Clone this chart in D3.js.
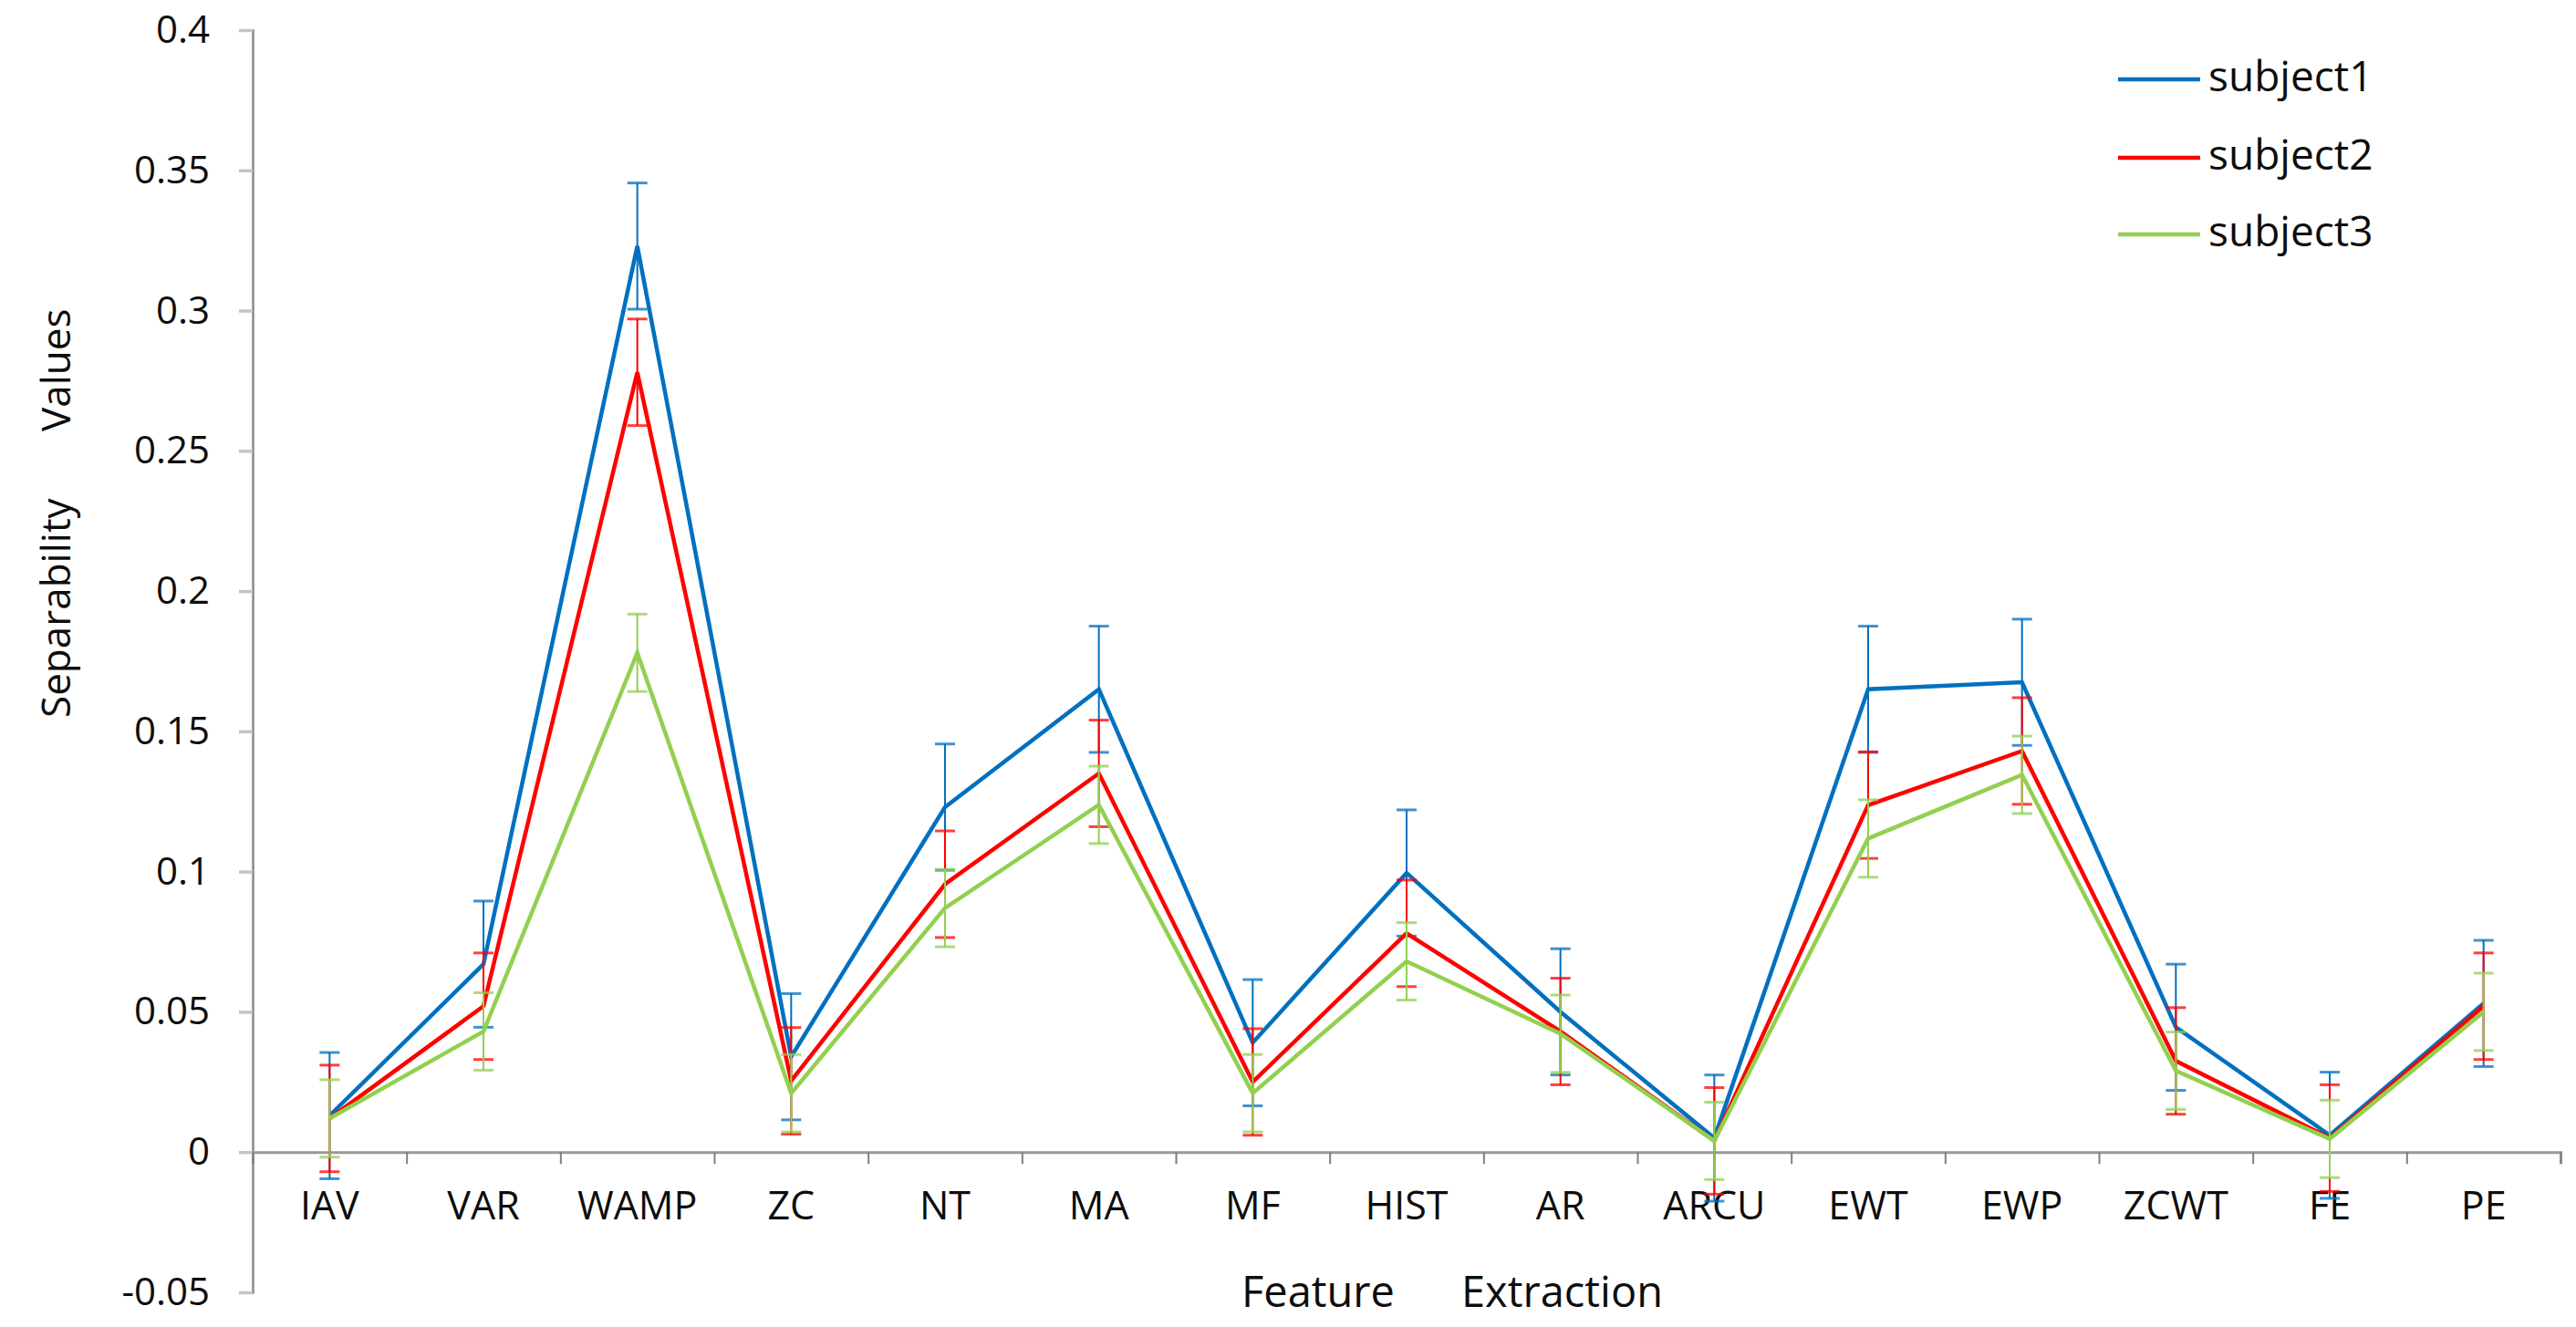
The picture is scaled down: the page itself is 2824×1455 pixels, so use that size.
<!DOCTYPE html>
<html>
<head>
<meta charset="utf-8">
<script src="https://cdn.jsdelivr.net/npm/d3@7"></script>
<style>
  body { margin: 0; background: #fff; }
  text { font-family: 'Open Sans', 'Noto Sans', sans-serif; fill: #0d0d0d; }
</style>
</head>
<body>
<script>
const categories = ['IAV', 'VAR', 'WAMP', 'ZC', 'NT', 'MA', 'MF', 'HIST', 'AR', 'ARCU', 'EWT', 'EWP', 'ZCWT', 'FE', 'PE'];
const seriesNames = ['subject1', 'subject2', 'subject3'];
const subject1 = [0.013, 0.067, 0.323, 0.034, 0.123, 0.165, 0.039, 0.0995, 0.05, 0.005, 0.165, 0.1675, 0.0445, 0.006, 0.053];
const subject2 = [0.012, 0.052, 0.278, 0.0254, 0.0955, 0.135, 0.025, 0.078, 0.043, 0.004, 0.1237, 0.143, 0.0325, 0.005, 0.052];
const subject3 = [0.012, 0.043, 0.178, 0.021, 0.087, 0.1238, 0.021, 0.068, 0.0422, 0.004, 0.1118, 0.1345, 0.029, 0.0047, 0.05];
const errorAmounts = [0.0225, 0.019, 0.0138];
const yTicks = [-0.05, 0, 0.05, 0.1, 0.15, 0.2, 0.25, 0.3, 0.35, 0.4];
const yTickLabels = ['-0.05', '0', '0.05', '0.1', '0.15', '0.2', '0.25', '0.3', '0.35', '0.4'];

const colors = ['#0070C0', '#FF0000', '#92D050'];

const svgWidth = 2824;
const svgHeight = 1455;
const plotLeft = 277;
const plotRight = 2807;
const plotTop = 33;
const plotBottom = 1417;

const svg = d3
  .select('body')
  .append('svg')
  .attr('width', svgWidth)
  .attr('height', svgHeight)
  .style('background-color', '#fff');

// SCALES
const xScale = d3.scaleBand().domain(categories).range([plotLeft, plotRight]).padding(0);
const xBounds = d3.scaleLinear().domain([0, categories.length]).range([plotLeft, plotRight]);
const yScale = d3.scaleLinear().domain([-0.05, 0.4]).range([plotBottom, plotTop]);
const xCenter = c => xScale(c) + xScale.bandwidth() / 2;

// Y-AXIS
const yAxis = d3
  .axisLeft(yScale)
  .tickValues(yTicks)
  .tickSize(15)
  .tickPadding(32)
  .tickFormat((d, i) => yTickLabels[i]);

const yG = svg.append('g').attr('transform', `translate(${plotLeft},0)`).call(yAxis);
yG.select('.domain').attr('stroke', '#8a8a8a').attr('stroke-width', 2.5);
yG.selectAll('.tick line').attr('stroke', '#c4c4c4').attr('stroke-width', 3.5);
yG.selectAll('.tick text').style('font-size', '42px').attr('fill', '#0d0d0d');

// X-AXIS (line at zero, ticks between categories)
const zeroY = yScale(0);
const xTicksG = svg
  .append('g')
  .attr('transform', `translate(0,${zeroY})`)
  .call(d3.axisBottom(xBounds).ticks(categories.length).tickSize(13).tickFormat(''));
xTicksG.select('.domain').attr('stroke', '#999').attr('stroke-width', 3);
xTicksG.selectAll('.tick line').attr('stroke', '#7f7f7f').attr('stroke-width', 2);

const xLabelsG = svg
  .append('g')
  .attr('transform', `translate(0,${zeroY})`)
  .call(d3.axisBottom(xScale).tickSize(0).tickPadding(43));
xLabelsG.select('.domain').remove();
xLabelsG.selectAll('.tick text').style('font-size', '43px').attr('fill', '#0d0d0d');

// AXIS TITLES
svg.append('text').attr('x', 1361).attr('y', 1433).style('font-size', '47px').text('Feature');
svg.append('text').attr('x', 1602).attr('y', 1433).style('font-size', '47px').text('Extraction');

svg
  .append('text')
  .attr('transform', 'translate(77,787) rotate(-90)')
  .style('font-size', '44px')
  .text('Separability');
svg
  .append('text')
  .attr('transform', 'translate(77,473) rotate(-90)')
  .style('font-size', '44px')
  .text('Values');

// SERIES
const seriesData = [subject1, subject2, subject3];

const line = d3
  .line()
  .x((d, i) => xCenter(categories[i]))
  .y(d => yScale(d));

seriesData.forEach((values, s) => {
  const g = svg.append('g').attr('class', 'series');

  g.append('path')
    .datum(values)
    .attr('d', line)
    .attr('fill', 'none')
    .attr('stroke', colors[s])
    .attr('stroke-width', 4.5)
    .attr('stroke-linejoin', 'miter');

  const err = errorAmounts[s];
  const bars = g
    .selectAll('.err')
    .data(values)
    .enter()
    .append('g')
    .attr('class', 'err');

  bars
    .append('line')
    .attr('x1', (d, i) => xCenter(categories[i]))
    .attr('x2', (d, i) => xCenter(categories[i]))
    .attr('y1', d => yScale(d + err))
    .attr('y2', d => yScale(d - err))
    .attr('stroke', colors[s])
    .attr('stroke-width', 2);

  [1, -1].forEach(sign => {
    bars
      .append('line')
      .attr('x1', (d, i) => xCenter(categories[i]) - 11)
      .attr('x2', (d, i) => xCenter(categories[i]) + 11)
      .attr('y1', d => yScale(d + sign * err))
      .attr('y2', d => yScale(d + sign * err))
      .attr('stroke', colors[s])
      .attr('stroke-width', 3)
      .attr('opacity', 0.75);
  });
});

// LEGEND
const legend = svg.append('g').attr('class', 'legend');
const legendY = [87, 173, 257];

seriesNames.forEach((name, s) => {
  legend
    .append('line')
    .attr('x1', 2322)
    .attr('x2', 2412)
    .attr('y1', legendY[s])
    .attr('y2', legendY[s])
    .attr('stroke', colors[s])
    .attr('stroke-width', 4.5);
  legend
    .append('text')
    .attr('x', 2421)
    .attr('y', legendY[s] + 13)
    .style('font-size', '46px')
    .text(name);
});
</script>
</body>
</html>
